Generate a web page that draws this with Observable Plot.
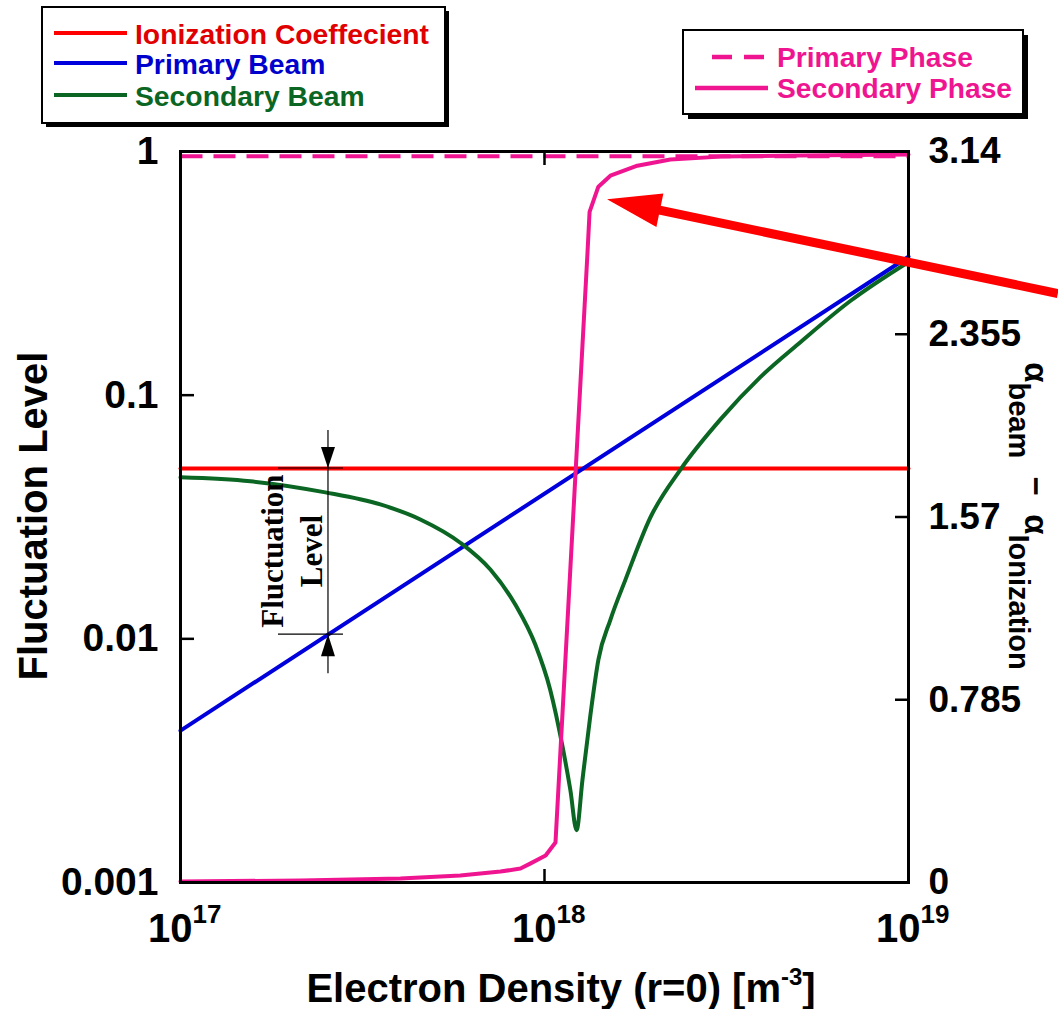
<!DOCTYPE html>
<html><head><meta charset="utf-8">
<script src="https://cdn.jsdelivr.net/npm/d3@7"></script>
<script src="https://cdn.jsdelivr.net/npm/@observablehq/plot@0.6"></script>
<style>html,body{margin:0;padding:0;background:#fff;}</style>
</head><body><div id="chart"></div>
<script>
// ---------- data ----------
const fullDensity = [1e17, 1e19];
const ionizationLevel = [0.05, 0.05];
const primaryBeam = [0.0042, 0.37];
const primaryPhase = [3.12, 3.12];

const secondaryDensity = [1e17, 1.556e17, 2.50e17, 3.54e17, 4.56e17, 5.87e17, 7.11e17, 8.32e17, 9.44e17, 1.037e18, 1.119e18, 1.178e18, 1.225e18, 1.271e18, 1.337e18, 1.406e18, 1.517e18, 1.669e18, 1.954e18, 2.366e18, 3.048e18, 3.917e18, 5.047e18, 6.934e18, 1e19];
const secondaryBeam = [0.0460, 0.0443, 0.0399, 0.0356, 0.0309, 0.0248, 0.0192, 0.0138, 0.00945, 0.00617, 0.00366, 0.00239, 0.00164, 0.00263, 0.00487, 0.00820, 0.01197, 0.0175, 0.0315, 0.0496, 0.0797, 0.1186, 0.165, 0.244, 0.352];

const phaseDensity = [1e17, 2.14e17, 4.02e17, 5.87e17, 7.57e17, 8.59e17, 9.16e17, 1.007e18, 1.072e18, 1.312e18, 1.330e18, 1.406e18, 1.517e18, 1.799e18, 2.217e18, 3.048e18, 5.047e18, 1e19];
const secondaryPhase = [0.0043, 0.0086, 0.0172, 0.030, 0.047, 0.060, 0.082, 0.116, 0.172, 2.700, 2.881, 2.989, 3.036, 3.079, 3.106, 3.118, 3.123, 3.127];

const leftTicks = [1, 0.1, 0.01, 0.001];
const leftTickLabels = ["1", "0.1", "0.01", "0.001"];
const rightTicks = [0, 0.785, 1.57, 2.355, 3.14];
const rightTickLabels = ["0", "0.785", "1.57", "2.355", "3.14"];
const xTicks = [1e17, 1e18, 1e19];
const xTickExponents = ["17", "18", "19"];

const legendLeftLabels = ["Ionization Coeffecient", "Primary Beam", "Secondary Beam"];
const legendRightLabels = ["Primary Phase", "Secondary Phase"];

// annotation readings
const arrowTip = {density: 1.49e18, phase: 2.933};
const arrowTail = {density: 2.58e19, phase: 2.528};
const bracketDensity = 2.55e17;
const bracketTop = 0.05;
const bracketBottom = 0.0104;

// ---------- colours ----------
const RED = "#ff0000", BLUE = "#0000dd", GREEN = "#0b6623", PINK = "#ef1590";

// phase (right axis, 0..3.14 linear) mapped onto the left log scale
const phaseMax = 3.14;
const phaseToLevel = p => Math.pow(10, -3 + 3 * p / phaseMax);
const near = (a, b) => Math.abs(Math.log10(a) - Math.log10(b)) < 1e-6;

const rows = (xs, ys) => xs.map((x, i) => ({x, y: ys[i]}));
const ionRows = rows(fullDensity, ionizationLevel);
const primRows = rows(fullDensity, primaryBeam);
const secRows = rows(secondaryDensity, secondaryBeam);
const pPhaseRows = rows(fullDensity, primaryPhase.map(phaseToLevel));
const sPhaseRows = rows(phaseDensity, secondaryPhase.map(phaseToLevel));

const FONT = "'Liberation Sans', Arial, Helvetica, sans-serif";

const plot = Plot.plot({
  width: 1058, height: 1009,
  marginLeft: 180, marginRight: 150, marginTop: 151, marginBottom: 127,
  style: {fontFamily: FONT, background: "white", overflow: "visible", color: "black"},
  x: {type: "log", domain: [1e17, 1e19], axis: null},
  y: {type: "log", domain: [0.001, 1], axis: null},
  marks: [
    Plot.line(pPhaseRows, {x: "x", y: "y", stroke: PINK, strokeWidth: 4, strokeDasharray: "22,11", strokeLinecap: "butt"}),
    Plot.line(ionRows, {x: "x", y: "y", stroke: RED, strokeWidth: 4}),
    Plot.line(primRows, {x: "x", y: "y", stroke: BLUE, strokeWidth: 4}),
    Plot.line(secRows, {x: "x", y: "y", stroke: GREEN, strokeWidth: 4, curve: "monotone-x"}),
    Plot.line(sPhaseRows, {x: "x", y: "y", stroke: PINK, strokeWidth: 4}),
    Plot.frame({stroke: "black", strokeWidth: 3}),
    Plot.axisY(leftTicks, {anchor: "left", label: null, tickSize: 14, dx: 14, tickPadding: 22, strokeWidth: 2.5,
      tickFormat: d => leftTickLabels[leftTicks.findIndex(v => near(v, d))],
      fontSize: 39, fontWeight: "bold"}),
    Plot.axisY(rightTicks.map(phaseToLevel), {anchor: "right", label: null, tickSize: 14, dx: -14, tickPadding: 20, strokeWidth: 2.5,
      tickFormat: d => rightTickLabels[rightTicks.map(phaseToLevel).findIndex(v => near(v, d))],
      fontSize: 37, fontWeight: "bold"}),
    Plot.axisX([1e18], {anchor: "bottom", label: null, tickSize: 13, dy: -13, strokeWidth: 2.5, tickFormat: () => ""}),
    Plot.axisX([1e18], {anchor: "top", label: null, tickSize: 13, dy: 13, strokeWidth: 2.5, tickFormat: () => ""}),
    Plot.text(xTicks, {x: d => d, text: () => "10", frameAnchor: "bottom", lineAnchor: "bottom", textAnchor: "end", dx: 12, dy: 59, fontSize: 40, fontWeight: "bold", fill: "black"}),
    Plot.text(xTicks, {x: d => d, text: d => xTickExponents[xTicks.indexOf(d)], frameAnchor: "bottom", lineAnchor: "bottom", textAnchor: "start", dx: 12, dy: 40, fontSize: 26, fontWeight: "bold", fill: "black"})
  ]
});

document.getElementById("chart").appendChild(plot);

// ---------- decorations via the plot's own scales ----------
const svg = d3.select(plot);
const xs = plot.scale("x"), ys = plot.scale("y");
const X = v => xs.apply(v), Y = v => ys.apply(v);

// axis titles
svg.append("text")
  .attr("transform", "translate(47,516) rotate(-90)")
  .attr("text-anchor", "middle").attr("font-family", FONT).attr("font-weight", "bold").attr("font-size", 40).attr("fill", "black")
  .text("Fluctuation Level");

const xl = svg.append("text")
  .attr("x", 561).attr("y", 1002).attr("text-anchor", "middle")
  .attr("font-family", FONT).attr("font-weight", "bold").attr("font-size", 40).attr("fill", "black");
xl.append("tspan").text("Electron Density (r=0) [m");
xl.append("tspan").attr("font-size", 24).attr("dy", -17).text("-3");
xl.append("tspan").attr("font-size", 40).attr("dy", 17).text("]");

const rl = svg.append("text")
  .attr("transform", "translate(1025,516) rotate(90)")
  .attr("text-anchor", "middle").attr("font-family", FONT).attr("font-weight", "bold").attr("font-size", 33).attr("fill", "black");
rl.append("tspan").text("α");
rl.append("tspan").attr("font-size", 29).attr("dy", 16).text("beam");
rl.append("tspan").attr("font-size", 33).attr("dy", -16).text("  −  α");
rl.append("tspan").attr("font-size", 29).attr("dy", 16).text("Ionization");

// fluctuation bracket annotation
const bx = X(bracketDensity), byTop = Y(bracketTop), byBot = Y(bracketBottom);
const ann = svg.append("g").attr("stroke", "black").attr("stroke-width", 1.2).attr("fill", "none");
ann.append("line").attr("x1", bx).attr("x2", bx).attr("y1", byTop - 38).attr("y2", byBot + 39);
ann.append("line").attr("x1", bx - 50).attr("x2", bx + 15).attr("y1", byTop).attr("y2", byTop);
ann.append("line").attr("x1", bx - 50).attr("x2", bx + 15).attr("y1", byBot).attr("y2", byBot);
svg.append("path").attr("fill", "black")
  .attr("d", `M${bx},${byTop} L${bx - 7},${byTop - 21} L${bx + 7},${byTop - 21} Z`);
svg.append("path").attr("fill", "black")
  .attr("d", `M${bx},${byBot} L${bx - 7},${byBot + 22} L${bx + 7},${byBot + 22} Z`);
svg.append("text")
  .attr("transform", `translate(${bx - 45},${(byTop + byBot) / 2}) rotate(-90)`)
  .attr("text-anchor", "middle").attr("font-family", "'Liberation Serif', 'Times New Roman', serif")
  .attr("font-weight", "bold").attr("font-size", 31).attr("fill", "black").text("Fluctuation");
svg.append("text")
  .attr("transform", `translate(${bx - 6},${(byTop + byBot) / 2}) rotate(-90)`)
  .attr("text-anchor", "middle").attr("font-family", "'Liberation Serif', 'Times New Roman', serif")
  .attr("font-weight", "bold").attr("font-size", 31).attr("fill", "black").text("Level");

// big red arrow
const tip = [X(arrowTip.density), Y(phaseToLevel(arrowTip.phase))];
const tail = [X(arrowTail.density), Y(phaseToLevel(arrowTail.phase))];
{
  const dxv = tip[0] - tail[0], dyv = tip[1] - tail[1];
  const len = Math.hypot(dxv, dyv), ux = dxv / len, uy = dyv / len;
  const headLen = 54, half = 17;
  const base = [tip[0] - ux * headLen, tip[1] - uy * headLen];
  svg.append("line").attr("x1", tail[0]).attr("y1", tail[1]).attr("x2", base[0] + ux * 4).attr("y2", base[1] + uy * 4)
    .attr("stroke", RED).attr("stroke-width", 9);
  svg.append("path").attr("fill", RED)
    .attr("d", `M${tip[0]},${tip[1]} L${base[0] - uy * half},${base[1] + ux * half} L${base[0] + uy * half},${base[1] - ux * half} Z`);
}

// legends
function legendBox(x, y, w, h, sh) {
  const g = svg.append("g");
  g.append("rect").attr("x", x + sh).attr("y", y + sh).attr("width", w).attr("height", h).attr("fill", "black");
  g.append("rect").attr("x", x).attr("y", y).attr("width", w).attr("height", h).attr("fill", "white").attr("stroke", "black").attr("stroke-width", 2);
  return g;
}
const gl = legendBox(42, 7, 403, 116, 4);
const leftColors = [RED, BLUE, GREEN];
const leftTextColors = ["#e00000", "#0000cc", "#0b6623"];
const leftRowY = [33, 63, 95];
legendLeftLabels.forEach((lab, i) => {
  gl.append("line").attr("x1", 54).attr("x2", 127).attr("y1", leftRowY[i]).attr("y2", leftRowY[i])
    .attr("stroke", leftColors[i]).attr("stroke-width", 4);
  gl.append("text").attr("x", 135).attr("y", leftRowY[i] + 11).attr("text-anchor", "start")
    .attr("font-family", FONT).attr("font-weight", "bold")
    .attr("font-size", 28.3).attr("fill", leftTextColors[i]).text(lab);
});
const gr = legendBox(683, 30, 340, 84, 5);
const rightRowY = [57, 88];
gr.append("line").attr("x1", 712).attr("x2", 766).attr("y1", rightRowY[0]).attr("y2", rightRowY[0])
  .attr("stroke", PINK).attr("stroke-width", 4.5).attr("stroke-dasharray", "20,12");
gr.append("line").attr("x1", 695).attr("x2", 768).attr("y1", rightRowY[1]).attr("y2", rightRowY[1])
  .attr("stroke", PINK).attr("stroke-width", 4.5);
legendRightLabels.forEach((lab, i) => {
  gr.append("text").attr("x", 777).attr("y", rightRowY[i] + 10).attr("text-anchor", "start")
    .attr("font-family", FONT).attr("font-weight", "bold")
    .attr("font-size", 28.2).attr("fill", PINK).text(lab);
});
</script>
</body></html>
